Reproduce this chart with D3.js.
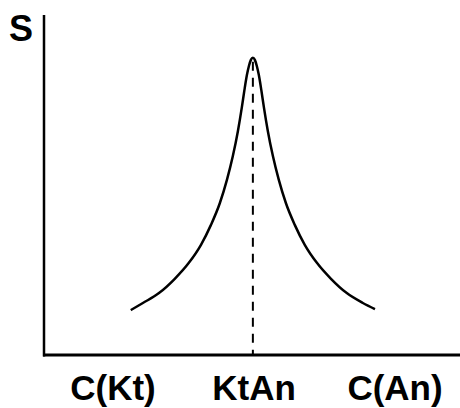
<!DOCTYPE html>
<html>
<head>
<meta charset="utf-8">
<script src="https://cdn.jsdelivr.net/npm/d3@7"></script>
<style>
  html, body { margin: 0; padding: 0; background: #fff; }
  svg { display: block; }
  text { font-family: Arial, "Liberation Sans", sans-serif; font-weight: bold; fill: #000; }
</style>
</head>
<body>
<svg id="chart" width="460" height="408"></svg>
<script>
// Composition axis: 0 = pure Kt, 1 = pure An, 0.5 = KtAn
const categoryLabels = ["C(Kt)", "KtAn", "C(An)"];
const categoryPositions = [0, 0.5, 1];

// Property S along the composition axis
const compositionX = [0.063, 0.106, 0.163, 0.219, 0.269, 0.312, 0.347, 0.379, 0.404, 0.425, 0.443, 0.457, 0.466, 0.475, 0.482, 0.489,
                      0.496,
                      0.503, 0.510, 0.517, 0.526, 0.535, 0.549, 0.567, 0.588, 0.613, 0.645, 0.680, 0.723, 0.773, 0.829, 0.886, 0.929];
const valuesS      = [1.32, 1.53, 1.82, 2.24, 2.71, 3.24, 3.82, 4.47, 5.15, 5.85, 6.59, 7.29, 7.79, 8.24, 8.50, 8.68,
                      8.74,
                      8.68, 8.50, 8.24, 7.79, 7.29, 6.59, 5.85, 5.15, 4.47, 3.82, 3.24, 2.71, 2.24, 1.82, 1.53, 1.35];

const peakX = 0.496;
const peakS = 8.74;

const yLabel = "S";

const svg = d3.select("#chart");

const x = d3.scaleLinear().domain([0, 1]).range([113, 395]);
const y = d3.scaleLinear().domain([0, 10]).range([355, 15]);

// axes
svg.append("line")
  .attr("x1", 44).attr("x2", 44)
  .attr("y1", y(10)).attr("y2", y(0) + 1.5)
  .attr("stroke", "#000").attr("stroke-width", 2.5);
svg.append("line")
  .attr("x1", 43).attr("x2", 460)
  .attr("y1", y(0)).attr("y2", y(0))
  .attr("stroke", "#000").attr("stroke-width", 3);

// dashed line from the peak down to the axis
svg.append("line")
  .attr("x1", x(peakX)).attr("x2", x(peakX))
  .attr("y1", y(peakS) + 4).attr("y2", y(0))
  .attr("stroke", "#000").attr("stroke-width", 2)
  .attr("stroke-dasharray", "9,7");

// curve
const pts = compositionX.map((cx, i) => [cx, valuesS[i]]);
const line = d3.line()
  .x(d => x(d[0]))
  .y(d => y(d[1]))
  .curve(d3.curveMonotoneX);
svg.append("path")
  .attr("d", line(pts))
  .attr("fill", "none")
  .attr("stroke", "#000")
  .attr("stroke-width", 2.5)
  .attr("stroke-linejoin", "round");

// category labels
svg.selectAll("text.cat")
  .data(categoryLabels)
  .join("text")
  .attr("class", "cat")
  .attr("x", (d, i) => x(categoryPositions[i]))
  .attr("y", 400)
  .attr("text-anchor", "middle")
  .style("font-size", "35px")
  .text(d => d);

// y label
svg.append("text")
  .attr("x", 21)
  .attr("y", 41)
  .attr("text-anchor", "middle")
  .style("font-size", "36px")
  .text(yLabel);
</script>
</body>
</html>
